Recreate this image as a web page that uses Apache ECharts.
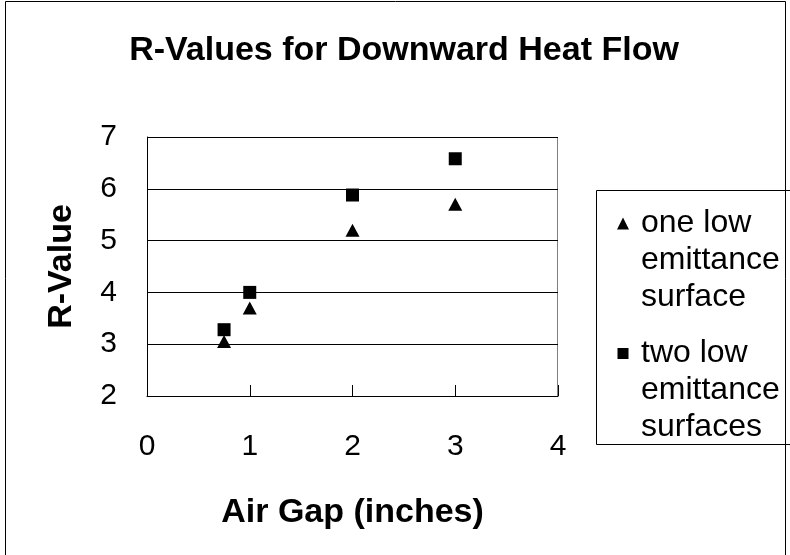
<!DOCTYPE html>
<html>
<head>
<meta charset="utf-8">
<script src="https://cdn.jsdelivr.net/npm/echarts@6/dist/echarts.min.js"></script>
<style>
  html, body { margin: 0; padding: 0; background: #fff; }
  #chart { width: 790px; height: 555px; }
</style>
</head>
<body>
<div id="chart"></div>
<script>
// air gap in inches
const airGap = [0.75, 1, 2, 3];
// R-values
const oneLowE = [3.05, 3.7, 5.2, 5.7];
const twoLowE = [3.28, 4.0, 5.88, 6.58];
const seriesNames = ["one low\nemittance\nsurface", "two low\nemittance\nsurfaces"];

const font = "Liberation Sans, Arial, sans-serif";
const myChart = echarts.init(document.getElementById("chart"));

// legend icons are as tall as the 3-line label; the marker sits on the first line
const triIcon = "path://M0 12.5L6 12.5L12 24.5L0 24.5L6 12.5Z M0 0L19 0Z M0 111L19 111Z";
const sqIcon = "path://M0.5 13L11.5 13L11.5 24L0.5 24Z M0 0L19 0Z M0 111L19 111Z";

const options = {
  backgroundColor: "#fff",
  animation: false,
  title: {
    text: "R-Values for Downward Heat Flow",
    left: 399,
    top: 29,
    textAlign: "center",
    textStyle: { fontFamily: font, fontSize: 34, fontWeight: "bold", color: "#000" },
  },
  grid: { left: 147, right: 232, top: 137, bottom: 159 },
  xAxis: {
    type: "value",
    min: 0,
    max: 4,
    interval: 1,
    name: "Air Gap (inches)",
    nameLocation: "middle",
    nameGap: 100,
    nameTextStyle: { fontFamily: font, fontSize: 34, fontWeight: "bold", color: "#000" },
    axisLine: { show: true, lineStyle: { color: "#000", width: 1 } },
    axisTick: { show: true, inside: true, length: 11, lineStyle: { color: "#000" } },
    axisLabel: { fontFamily: font, fontSize: 30, color: "#000", margin: 36 },
    splitLine: { show: false },
  },
  yAxis: {
    type: "value",
    min: 2,
    max: 7,
    interval: 1,
    name: "R-Value",
    nameLocation: "middle",
    nameGap: 68,
    nameTextStyle: { fontFamily: font, fontSize: 34, fontWeight: "bold", color: "#000" },
    axisLine: { show: true, lineStyle: { color: "#000", width: 1 } },
    axisTick: { show: true, inside: true, length: 10, lineStyle: { color: "#000" } },
    axisLabel: { fontFamily: font, fontSize: 30, color: "#000", margin: 30 },
    splitLine: { show: true, lineStyle: { color: "#000", width: 1 } },
  },
  legend: {
    orient: "vertical",
    left: 612,
    top: 200,
    itemWidth: 19,
    itemHeight: 111,
    itemGap: 19,
    selectedMode: false,
    textStyle: { fontFamily: font, fontSize: 32, color: "#000", lineHeight: 37 },
    data: [
      { name: seriesNames[0], icon: triIcon },
      { name: seriesNames[1], icon: sqIcon },
    ],
  },
  graphic: [
    // outer chart frame
    {
      type: "rect",
      shape: { x: 5.5, y: 1.5, width: 780, height: 600 },
      style: { fill: null, stroke: "#000", lineWidth: 1 },
      silent: true,
    },
    // plot area border (top and right are grey)
    {
      type: "polyline",
      shape: { points: [[147, 137.5], [557.5, 137.5], [557.5, 396]] },
      style: { fill: null, stroke: "#808080", lineWidth: 1 },
      silent: true,
    },
    // legend box
    {
      type: "rect",
      shape: { x: 596.5, y: 190.5, width: 220, height: 254 },
      style: { fill: null, stroke: "#000", lineWidth: 1 },
      silent: true,
    },
  ],
  series: [
    {
      name: seriesNames[0],
      type: "scatter",
      symbol: "triangle",
      symbolSize: [14, 13],
      itemStyle: { color: "#000", opacity: 1 },
      data: airGap.map((x, i) => [x, oneLowE[i]]),
    },
    {
      name: seriesNames[1],
      type: "scatter",
      symbol: "rect",
      symbolSize: 13,
      itemStyle: { color: "#000", opacity: 1 },
      data: airGap.map((x, i) => [x, twoLowE[i]]),
    },
  ],
};

myChart.setOption(options);
</script>
</body>
</html>
